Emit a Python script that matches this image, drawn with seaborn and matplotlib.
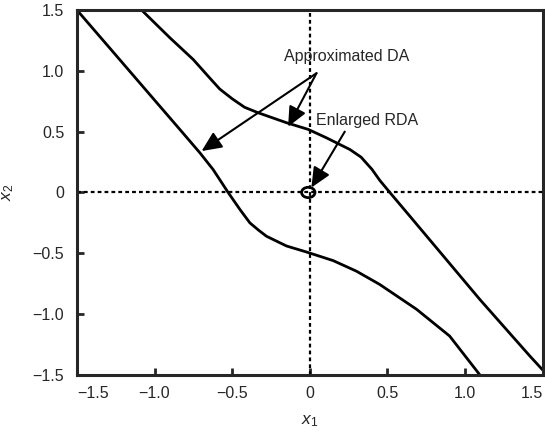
import numpy as np
import pandas as pd
import matplotlib
matplotlib.use("Agg")
import matplotlib.pyplot as plt
import seaborn as sns
from matplotlib.patches import Ellipse

# boundary curves
lower_x = [-1.5, -1.25, -0.966, -0.837, -0.708, -0.623, -0.526, -0.45, -0.386, -0.33, -0.279,
           -0.15, -0.02, 0.15, 0.30, 0.45, 0.687, 0.90, 1.095]
lower_y = [1.5, 1.13, 0.709, 0.518, 0.326, 0.189, 0.0, -0.14, -0.25, -0.31, -0.36,
           -0.44, -0.49, -0.56, -0.647, -0.756, -0.96, -1.18, -1.5]
upper_x = [-1.084, -0.9, -0.751, -0.644, -0.58, -0.5, -0.42, -0.333, -0.15, -0.01, 0.107,
           0.258, 0.33, 0.40, 0.45, 0.515, 0.644, 0.858, 1.095, 1.417, 1.5]
upper_y = [1.5, 1.27, 1.093, 0.94, 0.85, 0.77, 0.70, 0.655, 0.573, 0.518, 0.449,
           0.353, 0.29, 0.19, 0.10, 0.0, -0.195, -0.52, -0.88, -1.345, -1.46]

ticks = [-1.5, -1.0, -0.5, 0, 0.5, 1.0, 1.5]
tick_labels = ["\u22121.5", "\u22121.0", "\u22120.5", "0", "0.5", "1.0", "1.5"]

df = pd.concat([
    pd.DataFrame({"x1": lower_x, "x2": lower_y, "curve": "lower"}),
    pd.DataFrame({"x1": upper_x, "x2": upper_y, "curve": "upper"}),
])

sns.set_style("ticks")
plt.rcParams["font.family"] = ["Liberation Sans", "DejaVu Sans"]
plt.rcParams["mathtext.fontset"] = "custom"
plt.rcParams["mathtext.it"] = "Liberation Sans:italic"
plt.rcParams["mathtext.rm"] = "Liberation Sans"

fig = plt.figure(figsize=(5.45, 4.32), dpi=100)
ax = fig.add_axes([0.141, 0.132, 0.855, 0.845])

sns.lineplot(data=df, x="x1", y="x2", units="curve", estimator=None, sort=False,
             color="black", lw=2.0, ax=ax)
for ln in ax.lines:
    ln.set_solid_joinstyle("round")

# axes through the origin
ax.axhline(0, color="black", lw=1.6, ls=(0, (1.7, 1.4)), zorder=1)
ax.axvline(0, color="black", lw=1.6, ls=(0, (1.7, 1.4)), zorder=1)

# enlarged RDA (small ellipse)
ax.add_patch(Ellipse((-0.01, 0.0), 0.086, 0.085, fill=False, ec="black", lw=2, zorder=3))

arrow = dict(arrowstyle="-|>,head_length=0.55,head_width=0.25", color="black", lw=1.5,
             mutation_scale=22, shrinkA=0, shrinkB=0)
ax.annotate("", xy=(-0.697, 0.34), xytext=(0.043, 0.98), arrowprops=arrow)
ax.annotate("", xy=(-0.14, 0.54), xytext=(0.043, 0.98), arrowprops=arrow)
ax.text(0.24, 1.12, "Approximated DA", ha="center", va="center", fontsize=11.5)
ax.annotate("", xy=(0.01, 0.04), xytext=(0.225, 0.50), arrowprops=arrow)
ax.text(0.37, 0.59, "Enlarged RDA", ha="center", va="center", fontsize=11.5)

ax.set_xlim(-1.5, 1.5)
ax.set_ylim(-1.5, 1.5)
ax.set_xticks(ticks)
ax.set_xticklabels(tick_labels, fontsize=11.5)
ax.set_yticks(ticks)
ax.set_yticklabels(tick_labels, fontsize=11.5)
xl = ax.get_xticklabels()
xl[0].set_ha("left")
xl[-1].set_ha("right")
ax.tick_params(axis="x", direction="in", length=5, width=2, pad=8)
ax.tick_params(axis="y", direction="in", length=5, width=2, pad=9)
for s in ax.spines.values():
    s.set_linewidth(2.2)
    s.set_visible(True)

ax.set_xlabel(r"$x_1$", fontsize=12.5, labelpad=9)
ax.set_ylabel(r"$x_2$", fontsize=12.5, labelpad=12)

fig.savefig("out.png", dpi=100)
